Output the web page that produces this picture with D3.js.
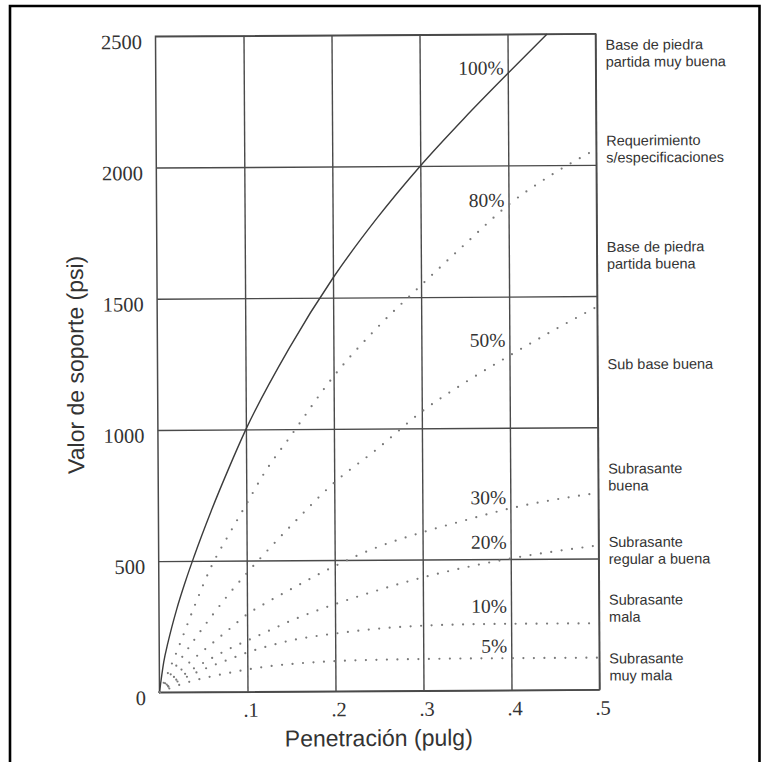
<!DOCTYPE html>
<html>
<head>
<meta charset="utf-8">
<script src="https://cdn.jsdelivr.net/npm/d3@7"></script>
<style>
  html, body { margin: 0; padding: 0; background: #fff; }
  svg { display: block; }
</style>
</head>
<body>
<svg id="chart" width="766" height="762"></svg>
<script>
// ---- Data: bearing value (psi) against penetration (in) ----
const penetracionPatron = [0, 0.005, 0.01, 0.02, 0.03, 0.04, 0.06, 0.08, 0.1, 0.15, 0.2, 0.25, 0.3, 0.35, 0.4, 0.445];
const soporte100 = [0, 115, 190, 315, 420, 515, 690, 850, 1000, 1310, 1575, 1800, 2000, 2180, 2350, 2500];

const penetracion = [0, 0.02, 0.04, 0.06, 0.08, 0.1, 0.12, 0.15, 0.2, 0.25, 0.3, 0.35, 0.4, 0.45, 0.5];
const soporte80 = [0, 155, 325, 480, 600, 715, 830, 970, 1200, 1385, 1545, 1700, 1850, 1965, 2060];
const soporte50 = [0, 105, 200, 290, 375, 452, 525, 630, 795, 925, 1064, 1175, 1275, 1370, 1460];
const soporte30 = [0, 70, 130, 185, 240, 295, 335, 390, 477, 550, 604, 650, 693, 725, 750];
const soporte20 = [0, 50, 92, 130, 165, 195, 225, 270, 332, 385, 432, 470, 502, 528, 550];
const soporte10 = [0, 40, 72, 100, 125, 150, 170, 195, 220, 238, 248, 252, 253, 253, 253];
const soporte5  = [0, 25, 45, 60, 73, 85, 95, 105, 115, 119, 121, 122, 122, 122, 122];

const etiquetasCurva = ["100%", "80%", "50%", "30%", "20%", "10%", "5%"];

const xTicks = [0.1, 0.2, 0.3, 0.4, 0.5];
const xTickLabels = [".1", ".2", ".3", ".4", ".5"];
const yTicks = [0, 500, 1000, 1500, 2000, 2500];

const clasesSuelo = [
  ["Base de piedra", "partida muy buena"],
  ["Requerimiento", "s/especificaciones"],
  ["Base de piedra", "partida buena"],
  ["Sub base buena"],
  ["Subrasante", "buena"],
  ["Subrasante", "regular a buena"],
  ["Subrasante", "mala"],
  ["Subrasante", "muy mala"]
];

// ---- Layout ----
const W = 766, H = 762;
const plot = { left: 157.5, right: 597.5, top: 35, bottom: 691 };
// vertical anchors (in psi) for the curve tags and the soil-class notes
const curveTagAt = [2372, 1868, 1335, 735, 565, 321, 169];
const classNoteAt = [2425, 2060, 1655, 1240, 810, 530, 310, 86];

const serif = "'Liberation Serif', 'Times New Roman', serif";
const sans = "'Liberation Sans', Arial, Helvetica, sans-serif";
const ink = "#333";
const gridInk = "#4a4a4a";

const svg = d3.select("#chart");
svg.append("rect").attr("width", W).attr("height", H).attr("fill", "#fff");

// outer frame (open at the bottom)
svg.append("path")
  .attr("d", "M10,762 V6 H759.5 V762")
  .attr("fill", "none").attr("stroke", "#000").attr("stroke-width", 2.6);

const cx = (plot.left + plot.right) / 2, cy = (plot.top + plot.bottom) / 2;
const g = svg.append("g").attr("transform", `rotate(-0.35, ${cx}, ${cy})`);

const x = d3.scaleLinear().domain([0, 0.5]).range([plot.left, plot.right]);
const y = d3.scaleLinear().domain([0, 2500]).range([plot.bottom, plot.top]);

// horizontal grid + y tick labels
const yAxis = g.append("g")
  .attr("transform", `translate(${plot.left},0)`)
  .call(d3.axisLeft(y).tickValues(yTicks).tickFormat(d3.format("d"))
    .tickSize(-(plot.right - plot.left)).tickPadding(13.5));
yAxis.select(".domain").remove();
yAxis.selectAll(".tick line").attr("stroke", gridInk).attr("stroke-width", 1.4);
yAxis.selectAll(".tick text")
  .attr("font-family", serif).attr("font-size", 20.5).attr("fill", ink)
  .attr("y", 5).attr("dy", "0.34em");

// vertical grid + x tick labels
const xAxis = g.append("g")
  .attr("transform", `translate(0,${plot.bottom})`)
  .call(d3.axisBottom(x).tickValues(xTicks)
    .tickFormat((d, i) => xTickLabels[i])
    .tickSize(-(plot.bottom - plot.top)));
xAxis.select(".domain").remove();
xAxis.selectAll(".tick line").attr("stroke", gridInk).attr("stroke-width", 1.4);
xAxis.selectAll(".tick text")
  .attr("font-family", serif).attr("font-size", 20.5).attr("fill", ink)
  .attr("x", 3).attr("y", 25).attr("dy", 0);

// plot border
g.append("rect")
  .attr("x", plot.left).attr("y", plot.top)
  .attr("width", plot.right - plot.left).attr("height", plot.bottom - plot.top)
  .attr("fill", "none").attr("stroke", gridInk).attr("stroke-width", 1.5);

// curves
const line = d3.line().x(d => x(d[0])).y(d => y(d[1])).curve(d3.curveMonotoneX);

g.append("path")
  .datum(d3.zip(penetracionPatron, soporte100))
  .attr("d", line)
  .attr("fill", "none").attr("stroke", "#3c3c3c").attr("stroke-width", 1.4);

const dotted = [soporte80, soporte50, soporte30, soporte20, soporte10, soporte5];
g.selectAll("path.punteada")
  .data(dotted)
  .join("path")
  .attr("class", "punteada")
  .attr("d", s => line(d3.zip(penetracion, s)))
  .attr("fill", "none")
  .attr("stroke", "#7a7a7a")
  .attr("stroke-width", 2.2)
  .attr("stroke-linecap", "round")
  .attr("stroke-dasharray", "0 10.5");

// curve tags
g.selectAll("text.tag")
  .data(etiquetasCurva)
  .join("text")
  .attr("class", "tag")
  .attr("x", x(0.4) - 4)
  .attr("y", (d, i) => y(curveTagAt[i]))
  .attr("dy", "0.34em")
  .attr("text-anchor", "end")
  .attr("font-family", serif).attr("font-size", 19.5).attr("fill", ink)
  .text(d => d);

// soil class notes on the right
const notes = g.selectAll("text.clase")
  .data(clasesSuelo)
  .join("text")
  .attr("class", "clase")
  .attr("font-family", sans).attr("font-size", 14.5).attr("fill", ink)
  .attr("transform", (d, i) => `translate(${plot.right + 10},${y(classNoteAt[i])})`);
notes.selectAll("tspan")
  .data(d => d.map((t, j) => ({ t, j, n: d.length })))
  .join("tspan")
  .attr("x", 0)
  .attr("y", d => (d.j - (d.n - 1) / 2) * 17)
  .attr("dy", "0.35em")
  .text(d => d.t);

// axis titles
g.append("text")
  .attr("x", cx - 1).attr("y", 746)
  .attr("text-anchor", "middle")
  .attr("font-family", sans).attr("font-size", 23).attr("fill", ink)
  .text("Penetración (pulg)");

g.append("text")
  .attr("transform", `translate(83.5,${cy}) rotate(-90)`)
  .attr("text-anchor", "middle")
  .attr("font-family", sans).attr("font-size", 23).attr("fill", ink)
  .text("Valor de soporte (psi)");
</script>
</body>
</html>
